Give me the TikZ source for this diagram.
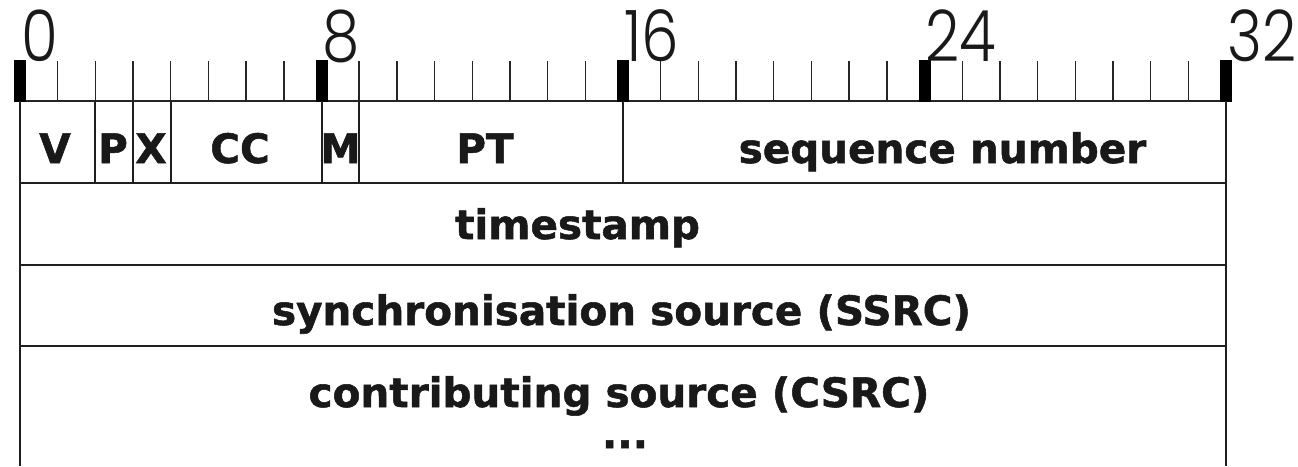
\documentclass[tikz,border=0pt]{standalone}
\usepackage{fontspec}
\newfontfamily\fieldfont{DejaVu Sans}[BoldFeatures={FakeBold=1.3}]
\newfontfamily\rulerfont{Poppins Light}
\newcommand\narrowdigits[1]{\scalebox{0.84}[1]{#1}}
\tikzset{
  field/.style={font=\fieldfont\bfseries\fontsize{40.5}{40}\selectfont, text=black!90, inner sep=0pt, anchor=base},
  bitnum/.style={font=\rulerfont\fontsize{71}{71}\selectfont, text=black!90, inner sep=0pt, anchor=base west},
  frameline/.style={line width=2pt, draw=black!88},
  minortick/.style={line width=1.4pt, draw=black!85},
  majortick/.style={fill=black}
}
\def\bitw{37.6875}
\begin{document}
\begin{tikzpicture}[x=1pt,y=-1pt]
  \useasboundingbox (0,0) rectangle (1298,466);
  % ruler: one tick per bit, heavy marks every byte
  \foreach \i in {0,...,32}
    \draw[minortick] ({20+\i*\bitw},61) -- ({20+\i*\bitw},101);
  \draw[minortick] (20,101) -- (1226,101);
  \foreach \i in {0,8,16,24,32} {
    \fill[majortick] ({20+\i*\bitw-6},60) rectangle ++(12,42);
    \node[bitnum] (n\i) at ({20+\i*\bitw+1},61) {\narrowdigits{\i}};
  }
  % header frame
  \draw[frameline] (20,101) -- (20,466);
  \draw[frameline] (1226,101) -- (1226,466);
  \foreach \yy in {183,265,346}
    \draw[frameline] (20,\yy) -- (1226,\yy);
  \foreach \b in {2,3,4,8,9,16}
    \draw[frameline] ({20+\b*\bitw},101) -- ({20+\b*\bitw},183);
  % field names
  \node[field] (V)   at (55,163)    {V};
  \node[field] (P)   at (113,163)   {P};
  \node[field] (X)   at (151,163)   {X};
  \node[field] (CC)  at (240,163)   {CC};
  \node[field] (M)   at (340.5,163) {M};
  \node[field] (PT)  at (485,163)   {PT};
  \node[field] (seq) at (942.5,163) {sequence number};
  \node[field] (ts)  at (577.5,239) {timestamp};
  \node[field] (ssrc) at (621.5,325) {synchronisation source (SSRC)};
  \node[field] (csrc) at (619,407)  {contributing source (CSRC)};
  \node[field] (dots) at (625,448)  {...};
\end{tikzpicture}
\end{document}
